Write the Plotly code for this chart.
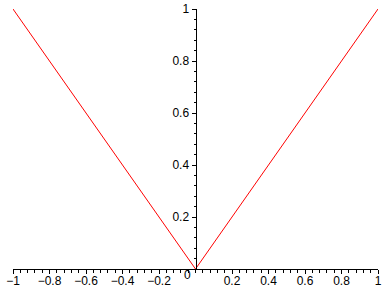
import plotly.graph_objects as go

x_vals = [-1, 0, 1]
y_vals = [1, 0, 1]

x_ticks = [-1, -0.8, -0.6, -0.4, -0.2, 0.2, 0.4, 0.6, 0.8, 1]
x_tick_text = ["\u22121", "\u22120.8", "\u22120.6", "\u22120.4", "\u22120.2", "0.2", "0.4", "0.6", "0.8", "1"]
y_ticks = [0.2, 0.4, 0.6, 0.8, 1]
y_tick_text = ["0.2", "0.4", "0.6", "0.8", "1"]

font = dict(family="Liberation Sans, Arial, sans-serif", size=12, color="black")

fig = go.Figure()
fig.add_trace(go.Scatter(x=x_vals, y=y_vals, mode="lines",
                         line=dict(color="#ff0000", width=1), showlegend=False,
                         hoverinfo="skip"))

fig.update_layout(
    width=388, height=288,
    margin=dict(l=13, r=10, t=9, b=19, autoexpand=False),
    paper_bgcolor="white", plot_bgcolor="white",
    font=font,
    xaxis=dict(range=[-1, 1], showgrid=False, zeroline=False, automargin=False,
               showline=True, linecolor="black", linewidth=1,
               tickmode="array", tickvals=x_ticks, ticktext=x_tick_text,
               ticks="outside", ticklen=4, tickcolor="black", tickwidth=1,
               ticklabelstandoff=-3,
               minor=dict(dtick=0.04, tick0=0, ticks="outside", ticklen=3,
                          tickcolor="black", tickwidth=1, showgrid=False),
               tickfont=font, anchor="y", fixedrange=True),
    yaxis=dict(range=[0, 1], showgrid=False, zeroline=False, automargin=False,
               showline=True, linecolor="black", linewidth=1,
               anchor="free", position=0.5,
               tickmode="array", tickvals=y_ticks, ticktext=y_tick_text,
               ticks="outside", ticklen=4, tickcolor="black", tickwidth=1,
               minor=dict(dtick=0.04, tick0=0, ticks="outside", ticklen=2,
                          tickcolor="black", tickwidth=1, showgrid=False),
               tickfont=font, fixedrange=True),
    annotations=[dict(x=0, y=0, xref="x", yref="y", text="0", showarrow=False,
                      xanchor="center", yanchor="middle", xshift=-8, yshift=-6,
                      font=font)],
)

fig.write_html("out.html", config={"displayModeBar": False})
